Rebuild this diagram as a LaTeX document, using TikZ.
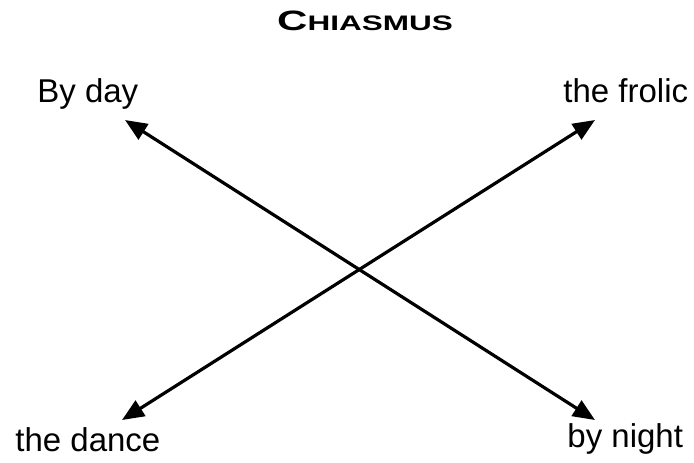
\documentclass[tikz,border=0pt]{standalone}
\usepackage{fontspec}
\setmainfont{Liberation Sans}
\usepackage{graphicx}
\usetikzlibrary{arrows.meta}
\tikzset{
  lbl/.style={font=\fontsize{16.5}{18}\selectfont, anchor=base west, inner sep=0pt},
  figtitle/.style={font=\bfseries, inner sep=0pt},
  dbl/.style={{Triangle[length=11pt,width=9pt]}-{Triangle[length=11pt,width=9pt]}, line width=1.6pt, draw=black},
}
\begin{document}
\begin{tikzpicture}[x=0.5pt, y=-0.5pt]
\useasboundingbox (0,0) rectangle (694,462);

\node[figtitle] (t_title) at (365,21) {\scalebox{1.5}[1]{\fontsize{14}{15}\selectfont C\fontsize{10.5}{12}\selectfont HIASMUS}};

\node[lbl] (w_byday) at (37,102) {By day};
\node[lbl] (w_frolic) at (563,102) {the frolic};
\node[lbl] (w_dance) at (15,451) {the dance};
\node[lbl] (w_night) at (567,447) {by night};

\coordinate (p_a) at (125,120);
\coordinate (p_b) at (595,420);
\coordinate (p_c) at (122,420);
\coordinate (p_d) at (595,120);

\draw[dbl] (p_a) -- (p_b);
\draw[dbl] (p_c) -- (p_d);

\end{tikzpicture}
\end{document}
